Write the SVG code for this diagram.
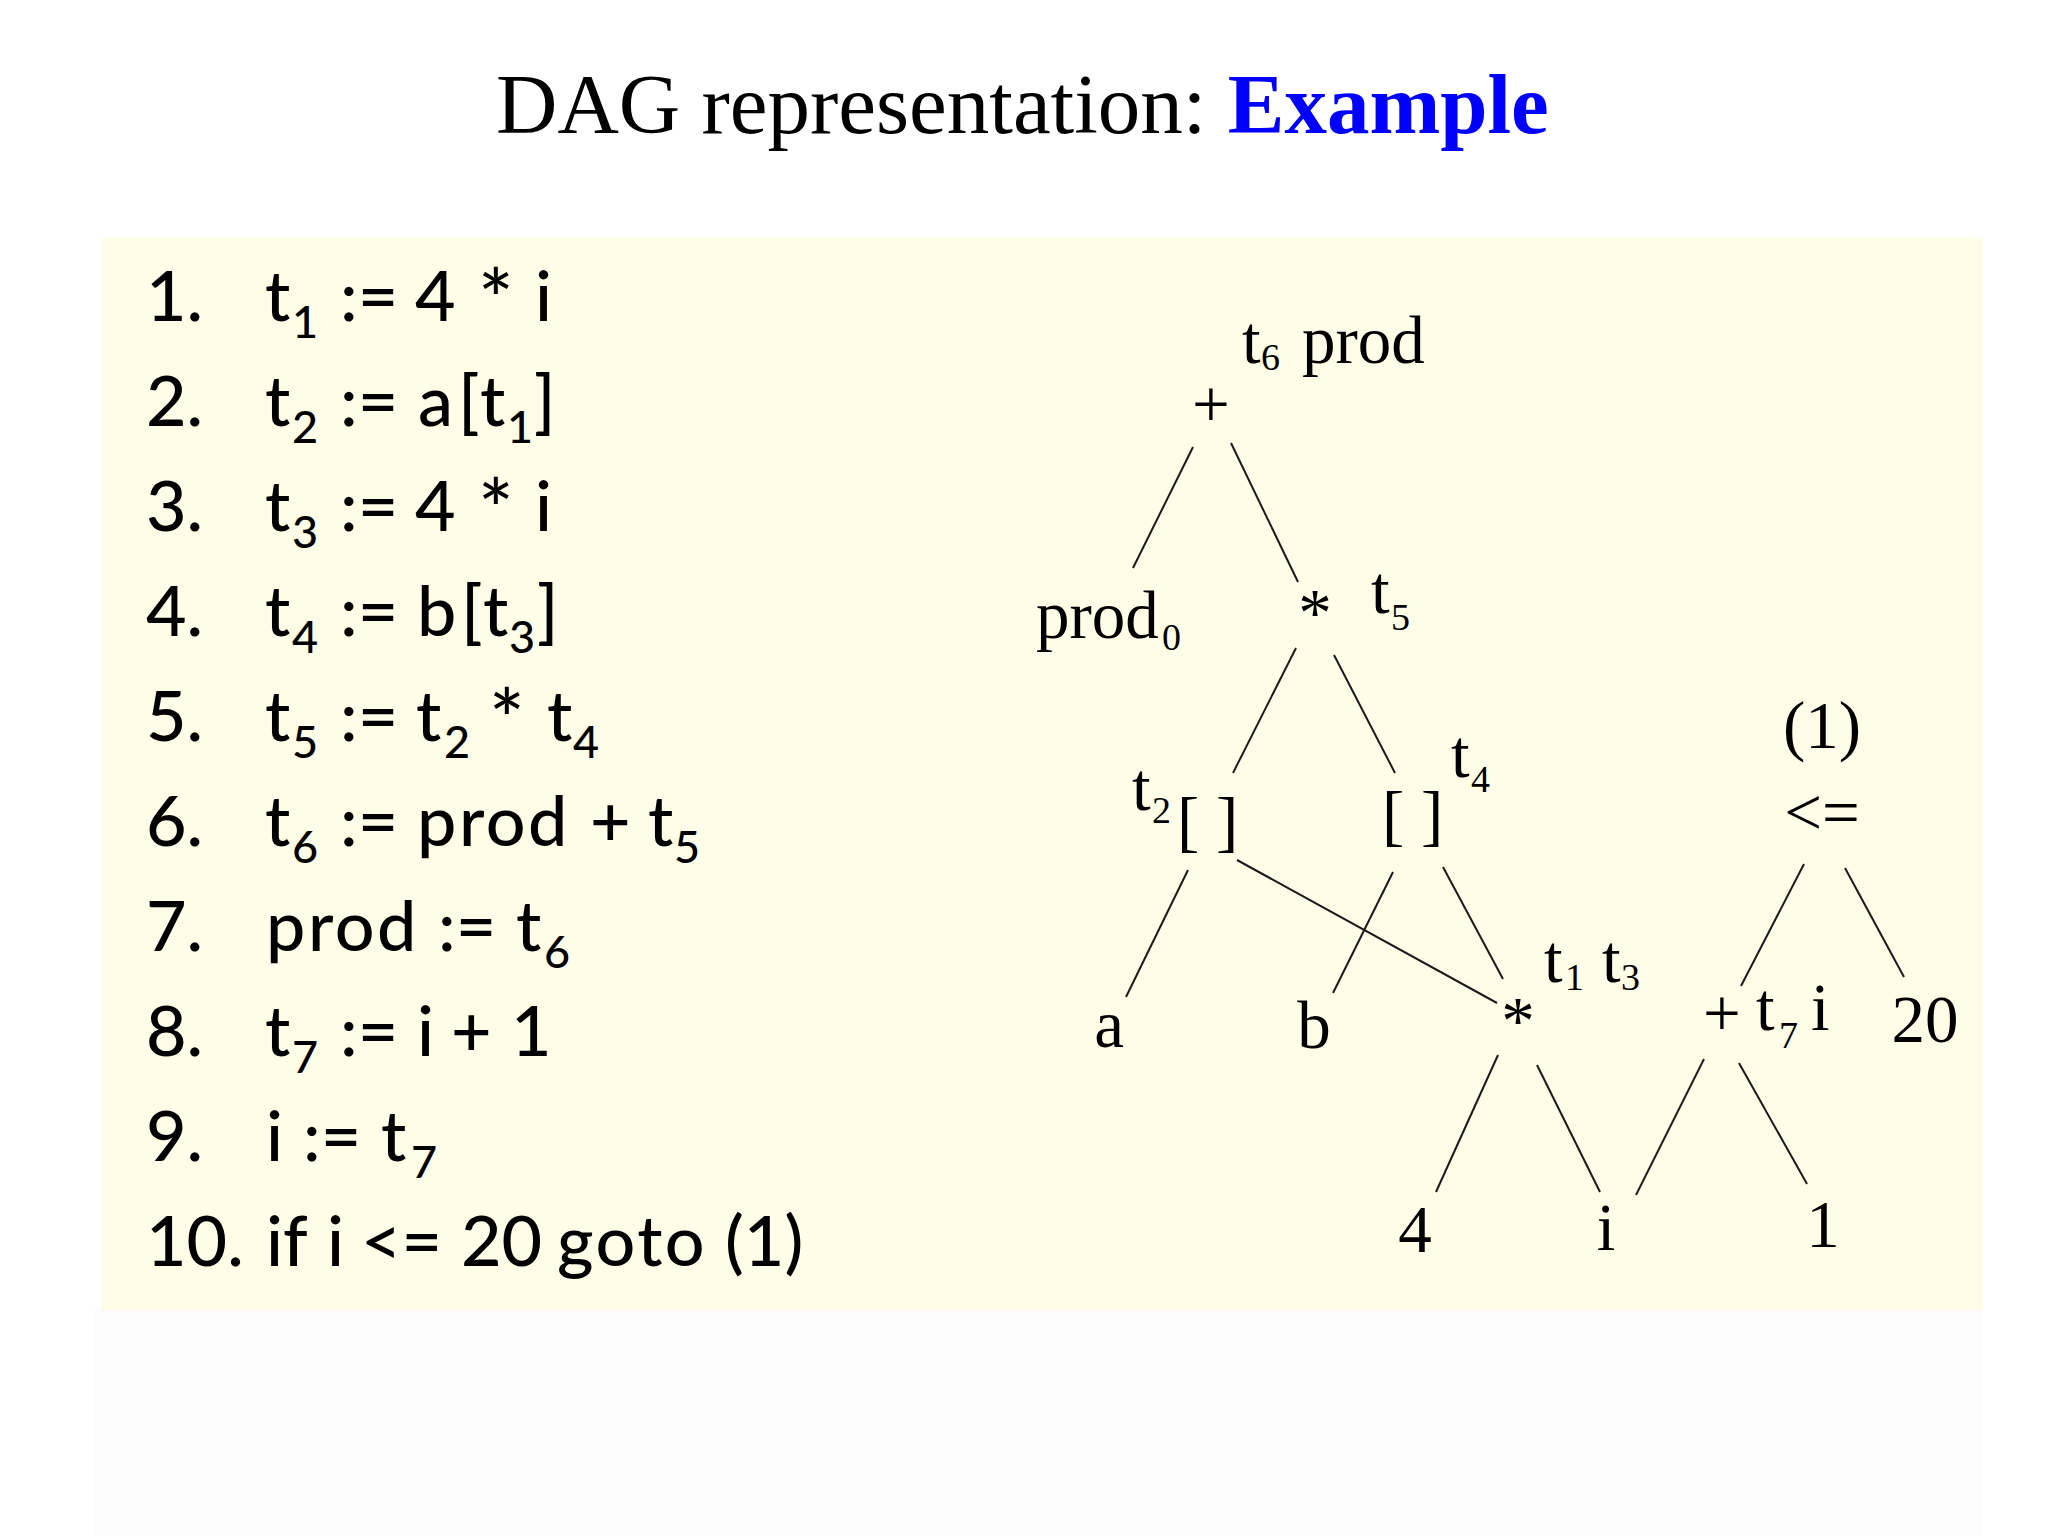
<svg xmlns="http://www.w3.org/2000/svg" width="2048" height="1536" viewBox="0 0 2048 1536">
<style>
.title{font-family:"Liberation Serif","Times New Roman",serif;font-size:85px;fill:#000}
.code{font-family:Lato,"Open Sans","Liberation Sans",sans-serif;font-size:70px;font-weight:500;fill:#000}
.sub{font-size:45px}
.ast{font-size:84px}
.wide{letter-spacing:2.5px}
.dag{font-family:"Liberation Serif","Times New Roman",serif;font-size:67px;fill:#000}
.dsub{font-size:38px}
.mid{text-anchor:middle}
.edge{stroke:#1a1a1a;stroke-width:2;fill:none}
</style>
<rect x="0" y="0" width="2048" height="1536" fill="#ffffff"/>
<rect x="94" y="1309" width="1889" height="227" fill="#fcfcfc"/>
<rect x="102" y="237" width="1881" height="1073" fill="#fefee8"/>
<text class="title" x="496" y="133">DAG representation: <tspan font-weight="bold" fill="#0000ff">Example</tspan></text>

<g id="code">
<text class="code" y="321"><tspan x="146">1.</tspan><tspan x="265">t</tspan><tspan class="sub" x="292" y="338">1</tspan><tspan x="340" y="321">:=</tspan><tspan x="415">4</tspan><tspan class="ast" x="478" y="330">*</tspan><tspan x="535" y="321">i</tspan></text>
<text class="code" y="426"><tspan x="146">2.</tspan><tspan x="265">t</tspan><tspan class="sub" x="292" y="443">2</tspan><tspan x="340" y="426">:=</tspan><tspan x="418">a</tspan><tspan x="458">[</tspan><tspan x="480">t</tspan><tspan class="sub" x="507" y="443">1</tspan><tspan x="534" y="426">]</tspan></text>
<text class="code" y="531"><tspan x="146">3.</tspan><tspan x="265">t</tspan><tspan class="sub" x="292" y="548">3</tspan><tspan x="340" y="531">:=</tspan><tspan x="415">4</tspan><tspan class="ast" x="478" y="540">*</tspan><tspan x="535" y="531">i</tspan></text>
<text class="code" y="636"><tspan x="146">4.</tspan><tspan x="265">t</tspan><tspan class="sub" x="292" y="653">4</tspan><tspan x="340" y="636">:=</tspan><tspan x="417">b</tspan><tspan x="461">[</tspan><tspan x="483">t</tspan><tspan class="sub" x="509" y="653">3</tspan><tspan x="537" y="636">]</tspan></text>
<text class="code" y="741"><tspan x="146">5.</tspan><tspan x="265">t</tspan><tspan class="sub" x="292" y="758">5</tspan><tspan x="340" y="741">:=</tspan><tspan x="416">t</tspan><tspan class="sub" x="444" y="758">2</tspan><tspan class="ast" x="489" y="750">*</tspan><tspan x="547" y="741">t</tspan><tspan class="sub" x="573" y="758">4</tspan></text>
<text class="code" y="846"><tspan x="146">6.</tspan><tspan x="265">t</tspan><tspan class="sub" x="292" y="863">6</tspan><tspan x="340" y="846">:=</tspan><tspan class="wide" x="417">prod</tspan><tspan x="590">+</tspan><tspan x="648">t</tspan><tspan class="sub" x="674" y="863">5</tspan></text>
<text class="code" y="951"><tspan x="146">7.</tspan><tspan class="wide" x="266">prod</tspan><tspan x="438">:=</tspan><tspan x="516">t</tspan><tspan class="sub" x="544" y="968">6</tspan></text>
<text class="code" y="1056"><tspan x="146">8.</tspan><tspan x="265">t</tspan><tspan class="sub" x="292" y="1073">7</tspan><tspan x="340" y="1056">:=</tspan><tspan x="417">i</tspan><tspan x="451">+</tspan><tspan x="511">1</tspan></text>
<text class="code" y="1161"><tspan x="146">9.</tspan><tspan x="266">i</tspan><tspan x="303">:=</tspan><tspan x="381">t</tspan><tspan class="sub" x="411" y="1178">7</tspan></text>
<text class="code" y="1266"><tspan x="146">10.</tspan><tspan x="266">if</tspan><tspan x="327">i</tspan><tspan x="361">&lt;=</tspan><tspan x="461">20</tspan><tspan class="wide" x="557">goto</tspan><tspan x="725">(1)</tspan></text>
</g>

<g id="connectors">
<line class="edge" x1="1193" y1="447" x2="1133" y2="568"/>
<line class="edge" x1="1231" y1="443" x2="1298" y2="582"/>
<line class="edge" x1="1296" y1="648" x2="1233" y2="773"/>
<line class="edge" x1="1334" y1="655" x2="1395" y2="773"/>
<line class="edge" x1="1188" y1="870" x2="1126" y2="997"/>
<line class="edge" x1="1237" y1="860" x2="1497" y2="1003"/>
<line class="edge" x1="1393" y1="872" x2="1333" y2="993"/>
<line class="edge" x1="1443" y1="867" x2="1503" y2="979"/>
<line class="edge" x1="1498" y1="1055" x2="1436" y2="1192"/>
<line class="edge" x1="1537" y1="1065" x2="1600" y2="1192"/>
<line class="edge" x1="1804" y1="864" x2="1741" y2="986"/>
<line class="edge" x1="1845" y1="868" x2="1904" y2="977"/>
<line class="edge" x1="1704" y1="1059" x2="1636" y2="1195"/>
<line class="edge" x1="1739" y1="1063" x2="1807" y2="1184"/>
</g>

<g id="n-plus-top"><text class="dag mid" x="1211" y="427">+</text><text class="dag" x="1242" y="363">t</text><text class="dag dsub" x="1261" y="370">6</text><text class="dag" x="1302" y="363">prod</text></g>
<g id="n-prod0"><text class="dag" x="1036" y="638">prod</text><text class="dag dsub" x="1162" y="650">0</text></g>
<g id="n-mul-top"><text class="dag mid" x="1315" y="635">*</text><text class="dag" x="1371" y="613">t</text><text class="dag dsub" x="1391" y="630">5</text></g>
<g id="n-idx-a"><text class="dag" x="1132" y="810">t</text><text class="dag dsub" x="1152" y="823">2</text><text class="dag" x="1177" y="844">[ ]</text></g>
<g id="n-idx-b"><text class="dag" x="1382" y="838">[ ]</text><text class="dag" x="1451" y="777">t</text><text class="dag dsub" x="1471" y="792">4</text></g>
<g id="n-a"><text class="dag mid" x="1109" y="1047">a</text></g>
<g id="n-b"><text class="dag mid" x="1314" y="1048">b</text></g>
<g id="n-mul-bottom"><text class="dag mid" x="1518" y="1043">*</text><text class="dag" x="1544" y="982">t</text><text class="dag dsub" x="1565" y="990">1</text><text class="dag" x="1602" y="982">t</text><text class="dag dsub" x="1621" y="990">3</text></g>
<g id="n-4"><text class="dag mid" x="1415" y="1252">4</text></g>
<g id="n-i"><text class="dag mid" x="1606" y="1250">i</text></g>
<g id="n-le"><text class="dag mid" x="1822" y="748">(1)</text><text class="dag mid" x="1822" y="835">&lt;=</text></g>
<g id="n-plus-bottom"><text class="dag mid" x="1722" y="1036">+</text><text class="dag" x="1756" y="1030">t</text><text class="dag dsub" x="1779" y="1048">7</text><text class="dag" x="1811" y="1030">i</text></g>
<g id="n-20"><text class="dag mid" x="1925" y="1042">20</text></g>
<g id="n-1"><text class="dag mid" x="1823" y="1247">1</text></g>
</svg>
